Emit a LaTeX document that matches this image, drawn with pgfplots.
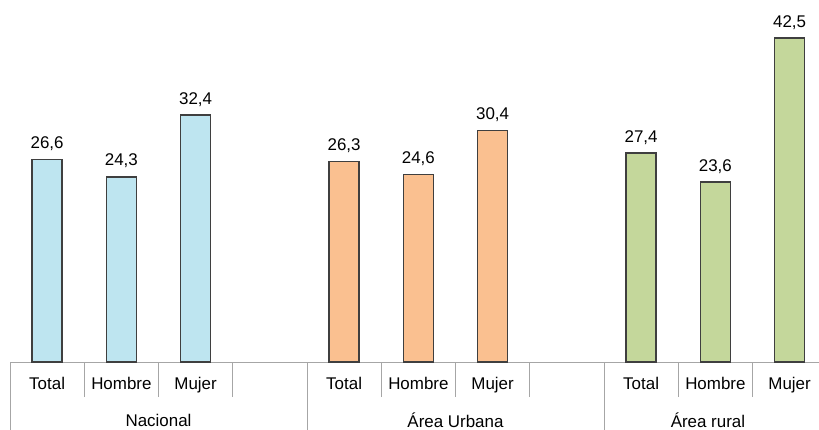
\documentclass[border=0pt]{standalone}
\usepackage{fontspec}
\setmainfont{Liberation Sans}
\usepackage{pgfplots}
\pgfplotsset{compat=1.18}

\definecolor{azul}{HTML}{BEE5F0}
\definecolor{naranja}{HTML}{FAC090}
\definecolor{verde}{HTML}{C4D79B}
\definecolor{borde}{HTML}{3F3F3F}
\definecolor{linea}{HTML}{A6A6A6}

\begin{document}
\begin{tikzpicture}
\begin{axis}[
    name=ax,
    scale only axis,
    clip=false,
    width=891bp, height=362bp,
    xmin=-0.5, xmax=11.5,
    ymin=0, ymax=47.5,
    axis y line=none,
    axis x line*=bottom,
    x axis line style={linea, line width=0.8pt, -},
    xtick={0,1,2,4,5,6,8,9,10},
    xticklabels={Total,Hombre,Mujer,Total,Hombre,Mujer,Total,Hombre,Mujer},
    minor xtick={0.5,1.5,2.5,4.5,5.5,6.5,8.5,9.5,10.5},
    xtick align=outside,
    major tick length=0pt,
    minor tick length=35bp,
    tick style={linea, line width=0.8pt},
    extra x ticks={-0.5,3.5,7.5,11.5},
    extra x tick labels={},
    extra x tick style={major tick length=80bp, tick style={linea, line width=0.8pt}},
    ticklabel style={font=\fontsize{17}{20}\selectfont, yshift=-12bp},
    ybar, bar width=30bp,
    nodes near coords,
    every node near coord/.append style={font=\fontsize{17}{20}\selectfont, inner sep=3bp, yshift=5bp},
    /pgf/number format/.cd, use comma, fixed, fixed zerofill, precision=1, assume math mode=true,
]
\addplot[bar shift=0pt, fill=azul, draw=borde, line width=1.4pt]
    coordinates {(0,26.6) (1,24.3) (2,32.4)};
\addplot[bar shift=0pt, fill=naranja, draw=borde, line width=1.4pt]
    coordinates {(4,26.3) (5,24.6) (6,30.4)};
\addplot[bar shift=0pt, fill=verde, draw=borde, line width=1.4pt]
    coordinates {(8,27.4) (9,23.6) (10,42.5)};
\coordinate (O) at (rel axis cs:0,0);
\node[font=\fontsize{17}{20}\selectfont, inner sep=1bp] at ([yshift=-58bp]axis cs:1.5,0) {Nacional};
\node[font=\fontsize{17}{20}\selectfont, inner sep=1bp] at ([yshift=-58bp]axis cs:5.5,0) {Área Urbana};
\node[font=\fontsize{17}{20}\selectfont, inner sep=1bp] at ([yshift=-58bp]axis cs:8.9,0) {Área rural};
\end{axis}
\pgfresetboundingbox
\path[use as bounding box] ([xshift=-10bp,yshift=-68bp]O) rectangle ++(819bp,430bp);
\end{tikzpicture}
\end{document}
